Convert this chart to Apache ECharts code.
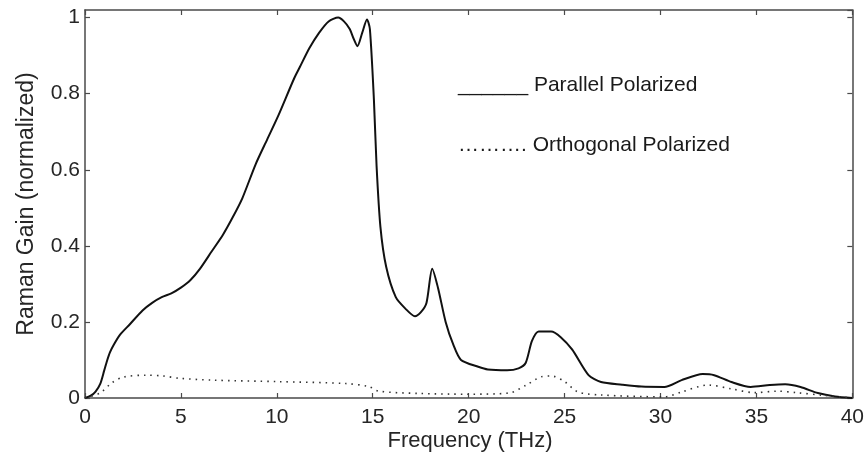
<!DOCTYPE html>
<html>
<head>
<meta charset="utf-8">
<script src="https://cdn.jsdelivr.net/npm/echarts@6/dist/echarts.min.js"></script>
<style>
  html, body { margin: 0; padding: 0; background: #fff; }
  #chart { width: 867px; height: 465px; }
</style>
</head>
<body>
<div id="chart"></div>
<script>
// Normalized Raman gain spectrum of silica fibre
const parallelFreq = [0, 0.3, 0.55, 0.8, 1.0, 1.15, 1.3, 1.5, 1.82, 2.34, 3.0, 3.5, 4.0, 4.5, 5.0, 5.5, 6.0, 6.6, 7.2, 7.7, 8.2, 8.9, 9.5,
  10.1, 10.9, 11.2, 11.7, 12.2, 12.7, 13.2, 13.5, 13.8, 14.0, 14.2, 14.45, 14.7, 14.85, 15.06, 15.2, 15.4, 15.7, 16.2, 16.7,
  17.2, 17.5, 17.8, 18.1, 18.4, 18.8, 19.2, 19.6, 20.5, 21.0, 22.0, 22.6, 22.97, 23.3, 23.65, 24.3, 24.8, 25.4, 26.25, 26.9,
  28.0, 29.0, 30.2, 31.1, 32.2, 32.8, 33.7, 34.7, 35.7, 36.5, 37.3, 38.2, 39.1, 40];
const parallelGain = [0, 0.006, 0.017, 0.038, 0.072, 0.098, 0.12, 0.14, 0.166, 0.194, 0.23, 0.25, 0.265, 0.275, 0.29, 0.31, 0.34, 0.385, 0.43, 0.475, 0.525, 0.615, 0.68,
  0.745, 0.84, 0.87, 0.92, 0.96, 0.99, 1.0, 0.99, 0.97, 0.945, 0.925, 0.96, 0.995, 0.97, 0.785, 0.61, 0.45, 0.345, 0.265, 0.235,
  0.215, 0.225, 0.25, 0.34, 0.29, 0.2, 0.14, 0.1, 0.082, 0.075, 0.073, 0.078, 0.092, 0.15, 0.175, 0.175, 0.16, 0.127, 0.06, 0.042,
  0.035, 0.03, 0.029, 0.047, 0.063, 0.06, 0.042, 0.029, 0.034, 0.036, 0.029, 0.013, 0.004, 0];

const orthoFreq = [0, 0.78, 1.4, 2.0, 3.2, 4.05, 4.9, 6.6, 10.1, 13.6, 14.8, 15.3, 17.4, 20.0, 22.1, 23.0, 23.8, 24.3, 25.0, 25.7,
  26.9, 30.2, 31.1, 32.5, 33.7, 34.9, 36.1, 37.1, 38.5, 40];
const orthoGain = [0, 0.013, 0.04, 0.055, 0.06, 0.058, 0.052, 0.047, 0.043, 0.038, 0.03, 0.018, 0.012, 0.01, 0.013, 0.034, 0.056, 0.058, 0.043, 0.016,
  0.008, 0.003, 0.016, 0.034, 0.024, 0.014, 0.018, 0.014, 0.007, 0];

const xTicks = [0, 5, 10, 15, 20, 25, 30, 35, 40];
const yTicks = [0, 0.2, 0.4, 0.6, 0.8, 1];

const xTitle = 'Frequency (THz)';
const yTitle = 'Raman Gain (normalized)';
const legendLines = ['______ Parallel Polarized', '………. Orthogonal Polarized'];

const FONT = '"Liberation Sans", Arial, sans-serif';
const AXIS_COLOR = '#4a4a4a';
const TEXT_COLOR = '#262626';

const chart = echarts.init(document.getElementById('chart'), null, { renderer: 'canvas' });

const pair = (xs, ys) => xs.map((x, i) => [x, ys[i]]);
const xFmt = v => (xTicks.includes(v) ? String(v) : '');
const yFmt = v => (yTicks.some(t => Math.abs(t - v) < 1e-9) ? String(+v.toFixed(1)) : '');

const boxAxis = () => ({
  axisLine: { show: true, onZero: false, lineStyle: { color: AXIS_COLOR, width: 1.5 } },
  axisTick: { show: true, inside: true, length: 5, lineStyle: { color: AXIS_COLOR, width: 1.2 } },
  splitLine: { show: false }
});

chart.setOption({
  animation: false,
  backgroundColor: '#ffffff',
  grid: { left: 85, right: 12, top: 10, bottom: 67 },
  xAxis: [
    Object.assign({
      type: 'value', min: 0, max: 40, interval: 5, position: 'bottom',
      axisLabel: { fontFamily: FONT, fontSize: 21, color: TEXT_COLOR, margin: 9, formatter: xFmt }
    }, boxAxis()),
    Object.assign({
      type: 'value', min: 0, max: 40, interval: 5, position: 'top',
      axisLabel: { show: false }
    }, boxAxis())
  ],
  yAxis: [
    Object.assign({
      type: 'value', min: 0, max: 1.02, interval: 0.2, position: 'left',
      axisLabel: { fontFamily: FONT, fontSize: 21, color: TEXT_COLOR, margin: 5, formatter: yFmt, showMaxLabel: false }
    }, boxAxis()),
    Object.assign({
      type: 'value', min: 0, max: 1.02, interval: 0.2, position: 'right',
      axisLabel: { show: false }
    }, boxAxis())
  ],
  series: [
    {
      name: 'Parallel Polarized', type: 'line', xAxisIndex: 0, yAxisIndex: 0,
      data: pair(parallelFreq, parallelGain), showSymbol: false, smooth: 0.25,
      lineStyle: { color: '#111111', width: 2 }
    },
    {
      name: 'Orthogonal Polarized', type: 'line', xAxisIndex: 0, yAxisIndex: 0,
      data: pair(orthoFreq, orthoGain), showSymbol: false, smooth: 0.3,
      lineStyle: { color: '#333333', width: 1.6, type: [1.5, 5] }
    }
  ],
  graphic: [
    { type: 'text', x: 470, y: 441, style: { text: xTitle, font: '22px ' + FONT, fill: TEXT_COLOR, align: 'center', verticalAlign: 'middle' } },
    { type: 'text', x: 27, y: 204, rotation: Math.PI / 2, style: { text: yTitle, font: '23px ' + FONT, fill: TEXT_COLOR, align: 'center', verticalAlign: 'middle' } },
    { type: 'text', x: 458, y: 85, style: { text: legendLines[0], font: '21px ' + FONT, fill: '#1a1a1a', verticalAlign: 'middle' } },
    { type: 'text', x: 458, y: 145, style: { text: legendLines[1], font: '21px ' + FONT, fill: '#1a1a1a', verticalAlign: 'middle' } }
  ]
});
</script>
</body>
</html>
